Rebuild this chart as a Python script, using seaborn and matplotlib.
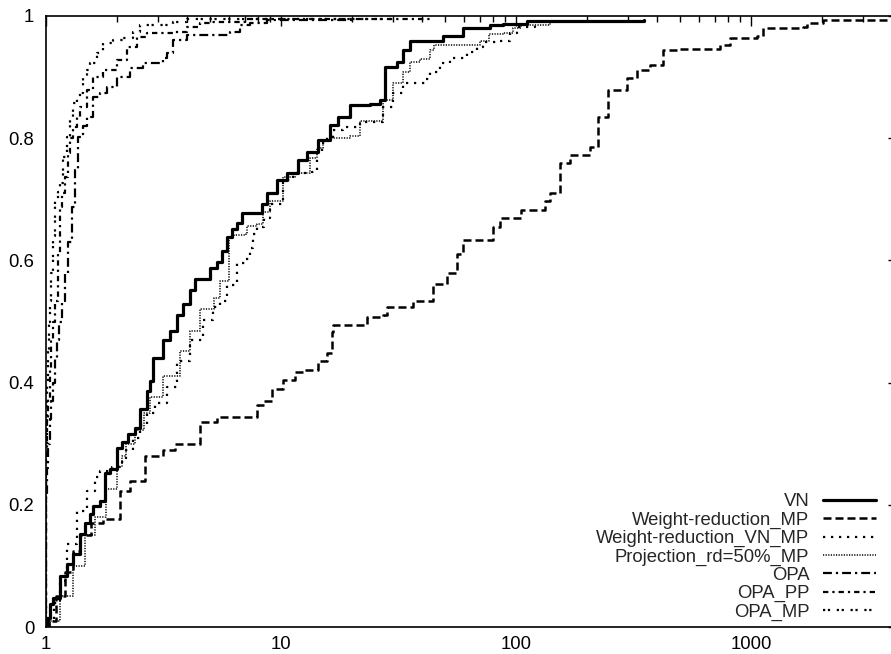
import numpy as np
import pandas as pd
import matplotlib
matplotlib.use("Agg")
import matplotlib.pyplot as plt
import seaborn as sns
from matplotlib.ticker import FixedLocator, LogLocator, NullFormatter

# ---------------- data ----------------
series_names = ["VN", "Weight-reduction_MP", "Weight-reduction_VN_MP",
                "Projection_rd=50%_MP", "OPA", "OPA_PP", "OPA_MP"]

vn_x = [1, 1.01, 1.04, 1.07, 1.147, 1.23, 1.30, 1.395, 1.466, 1.54, 1.585, 1.70, 1.78, 1.87,
        2.0, 2.105, 2.23, 2.39, 2.51, 2.69, 2.77, 2.85, 3.15, 3.37, 3.61, 3.83, 4.10, 4.31,
        4.75, 4.99, 5.34, 5.61, 5.89, 6.19, 6.50, 6.82, 7.38, 8.30, 8.72, 9.62, 10.6, 11.8,
        12.9, 14.4, 16.2, 17.5, 19.7, 23.9, 26.4, 27.7, 31.2, 33.0, 35.4, 43.1, 48.9, 59.5,
        77.5, 88.1, 111, 351]
vn_y = [0.0, 0.015, 0.038, 0.048, 0.084, 0.103, 0.12, 0.152, 0.17, 0.185, 0.198, 0.207, 0.252, 0.259,
        0.293, 0.302, 0.316, 0.326, 0.357, 0.387, 0.403, 0.441, 0.469, 0.485, 0.51, 0.529, 0.551, 0.57,
        0.57, 0.587, 0.597, 0.616, 0.638, 0.652, 0.661, 0.677, 0.677, 0.693, 0.711, 0.731, 0.743, 0.764,
        0.777, 0.797, 0.821, 0.834, 0.854, 0.856, 0.862, 0.916, 0.925, 0.944, 0.959, 0.959, 0.967, 0.98,
        0.985, 0.987, 0.992, 0.993]

wr_x = [1, 1.03, 1.1, 1.2, 1.3, 1.4, 1.55, 1.75, 1.82, 2.07, 2.28, 2.64, 3.15, 3.54, 4.52, 5.34,
        7.6, 7.9, 8.5, 9.2, 10.2, 11.5, 12.4, 14.4, 15.7, 16.5, 16.6, 20, 23.2, 27.2, 28.2, 35.4,
        36.5, 44.3, 50.8, 56.1, 59.5, 70.3, 79.8, 85.5, 105, 133, 140, 154, 170, 193, 207, 223,
        246, 297, 327, 372, 422, 484, 738, 814, 1061, 1125, 1664, 1730, 2025, 3945]
wr_y = [0.0, 0.01, 0.05, 0.09, 0.125, 0.15, 0.17, 0.177, 0.177, 0.223, 0.239, 0.28, 0.29, 0.30, 0.336, 0.343,
        0.343, 0.364, 0.37, 0.39, 0.405, 0.418, 0.42, 0.435, 0.448, 0.483, 0.495, 0.495, 0.507, 0.51, 0.523, 0.523,
        0.534, 0.562, 0.579, 0.61, 0.634, 0.634, 0.654, 0.67, 0.682, 0.698, 0.711, 0.759, 0.772, 0.772, 0.785, 0.834,
        0.879, 0.898, 0.911, 0.92, 0.944, 0.946, 0.952, 0.964, 0.967, 0.98, 0.982, 0.988, 0.993, 0.993]

wrvn_x = [1, 1.02, 1.08, 1.15, 1.23, 1.35, 1.5, 1.62, 1.7, 1.9, 2.05, 2.2, 2.35, 2.5, 2.7, 2.9, 3.27,
          3.61, 4.1, 4.65, 5.13, 5.5, 5.89, 6.5, 7.1, 7.38, 7.6, 7.9, 8.5, 8.98, 10.2, 11.2, 13.6,
          14.2, 14.9, 15.7, 16.6, 18.3, 21.7, 26.4, 27.2, 30, 33, 41, 43, 47.5, 52.4, 61.6, 68,
          72.6, 85.5, 94, 101, 120]
wrvn_y = [0.0, 0.01, 0.04, 0.075, 0.136, 0.19, 0.223, 0.245, 0.256, 0.262, 0.27, 0.29, 0.31, 0.33, 0.35, 0.366, 0.392,
          0.436, 0.469, 0.502, 0.523, 0.534, 0.559, 0.595, 0.603, 0.621, 0.644, 0.654, 0.670, 0.693, 0.731, 0.743, 0.744,
          0.775, 0.792, 0.802, 0.813, 0.818, 0.826, 0.826, 0.851, 0.874, 0.89, 0.897, 0.908, 0.923, 0.931, 0.941, 0.949,
          0.957, 0.959, 0.972, 0.982, 0.993]

proj_x = [1, 1.04, 1.15, 1.3, 1.47, 1.62, 1.8, 2.0, 2.1, 2.2, 2.4, 2.6, 2.77, 3.15, 3.7, 4.1, 4.52,
          5.2, 5.5, 6.0, 6.3, 7.1, 7.2, 7.9, 8.4, 8.98, 10.2, 11.5, 13.3, 14.2, 15.1, 16.2, 19.7,
          21.7, 26.4, 27.2, 30, 33, 35.4, 39, 43, 45, 66, 70, 77, 88, 97, 105, 140]
proj_y = [0.0, 0.01, 0.05, 0.1, 0.15, 0.18, 0.226, 0.262, 0.28, 0.30, 0.323, 0.35, 0.377, 0.41, 0.452, 0.485, 0.52,
          0.538, 0.567, 0.638, 0.641, 0.644, 0.656, 0.659, 0.679, 0.698, 0.736, 0.743, 0.767, 0.784, 0.795, 0.80, 0.803,
          0.828, 0.828, 0.862, 0.89, 0.908, 0.924, 0.93, 0.944, 0.952, 0.952, 0.959, 0.97, 0.972, 0.98, 0.985, 0.993]

opa_x = [1, 1, 1.01, 1.02, 1.035, 1.05, 1.07, 1.09, 1.11, 1.14, 1.17, 1.2, 1.24, 1.29, 1.33, 1.37,
         1.43, 1.49, 1.585, 1.70, 1.82, 2.0, 2.28, 2.59, 3.15, 3.27, 3.47, 3.98, 5.1, 6.07, 6.7,
         7.38, 8.72, 20]
opa_y = [0.0, 0.22, 0.26, 0.30, 0.34, 0.37, 0.40, 0.44, 0.47, 0.50, 0.534, 0.58, 0.63, 0.687, 0.748, 0.802,
         0.82, 0.834, 0.867, 0.874, 0.884, 0.90, 0.915, 0.923, 0.931, 0.939, 0.961, 0.969, 0.969, 0.974, 0.985,
         0.988, 0.993, 0.995]

opapp_x = [1, 1, 1.005, 1.01, 1.02, 1.035, 1.05, 1.07, 1.09, 1.12, 1.147, 1.175, 1.205, 1.24, 1.27,
           1.30, 1.35, 1.395, 1.49, 1.585, 1.75, 2.0, 2.21, 2.44, 2.69, 3.47, 3.98, 4.52, 5.1, 7.0, 44]
opapp_y = [0.0, 0.26, 0.30, 0.34, 0.375, 0.42, 0.47, 0.50, 0.534, 0.61, 0.687, 0.71, 0.736, 0.775, 0.80,
           0.818, 0.835, 0.851, 0.879, 0.90, 0.911, 0.928, 0.949, 0.966, 0.972, 0.974, 0.982, 0.988, 0.99, 0.995,
           0.995]

opamp_x = [1, 1, 1.005, 1.01, 1.02, 1.03, 1.04, 1.055, 1.07, 1.09, 1.12, 1.147, 1.18, 1.23, 1.265, 1.30,
           1.35, 1.395, 1.44, 1.49, 1.54, 1.65, 1.75, 1.93, 2.13, 2.35, 2.51, 3.47, 4.0, 30]
opamp_y = [0.0, 0.30, 0.35, 0.40, 0.45, 0.50, 0.534, 0.58, 0.64, 0.698, 0.712, 0.726, 0.769, 0.802, 0.834, 0.857,
           0.866, 0.874, 0.90, 0.912, 0.923, 0.939, 0.956, 0.961, 0.964, 0.974, 0.985, 0.990, 0.995, 0.995]

x_ticks = [1, 10, 100, 1000]
x_ticklabels = ["1", "10", "100", "1000"]
y_ticks = [0, 0.2, 0.4, 0.6, 0.8, 1]
y_ticklabels = ["0", "0.2", "0.4", "0.6", "0.8", "1"]

# ---------------- build table ----------------
xs = [vn_x, wr_x, wrvn_x, proj_x, opa_x, opapp_x, opamp_x]
ys = [vn_y, wr_y, wrvn_y, proj_y, opa_y, opapp_y, opamp_y]
frames = [pd.DataFrame({"ratio": x, "frac": y, "solver": n}) for n, x, y in zip(series_names, xs, ys)]
df = pd.concat(frames, ignore_index=True)

styles = {
    "VN": dict(lw=2.3, dashes=None),
    "Weight-reduction_MP": dict(lw=1.8, dashes=(3.2, 1.6)),
    "Weight-reduction_VN_MP": dict(lw=1.6, dashes=(1.0, 2.6)),
    "Projection_rd=50%_MP": dict(lw=1.1, dashes=(0.8, 0.9)),
    "OPA": dict(lw=1.6, dashes=(4.0, 1.8, 1.0, 1.8)),
    "OPA_PP": dict(lw=1.6, dashes=(2.4, 1.8, 1.0, 1.8)),
    "OPA_MP": dict(lw=1.6, dashes=(1.0, 1.2, 1.0, 3.0)),
}

FS = 13.3

# ---------------- plot ----------------
sns.set_theme(style="white")
plt.rcParams["font.family"] = ["Liberation Sans", "DejaVu Sans"]

W, H = 891, 654
fig = plt.figure(figsize=(W / 100, H / 100), dpi=100)
ax = fig.add_axes([46 / W, 1 - 627 / H, (891 - 46) / W, (627 - 16) / H])

for name in series_names:
    sub = df[df["solver"] == name]
    st = styles[name]
    sns.lineplot(data=sub, x="ratio", y="frac", ax=ax, sort=False, estimator=None,
                 label=name, color="black", linewidth=st["lw"], drawstyle="steps-post")
    ln = ax.get_lines()[-1]
    if st["dashes"] is not None:
        ln.set_dashes(st["dashes"])
        ln.set_dash_capstyle("butt")

ax.set_xscale("log")
ax.set_xlim(1, 3945)
ax.set_ylim(0, 1)
ax.set_xlabel("")
ax.set_ylabel("")

ax.xaxis.set_major_locator(FixedLocator(x_ticks))
ax.set_xticklabels(x_ticklabels)
ax.xaxis.set_minor_locator(LogLocator(base=10, subs=np.arange(2, 10), numticks=20))
ax.xaxis.set_minor_formatter(NullFormatter())
ax.set_yticks(y_ticks)
ax.set_yticklabels(y_ticklabels)

ax.tick_params(axis="both", which="both", direction="in", top=True, right=True,
               colors="black", labelsize=FS, width=1.0)
ax.tick_params(axis="both", which="major", length=7)
ax.tick_params(axis="both", which="minor", length=4)
ax.tick_params(axis="x", pad=6.5)
ax.tick_params(axis="y", pad=8.5)
for t in ax.yaxis.get_major_ticks():
    t.tick2line.set_markersize(2)

for side in ["left", "bottom", "top"]:
    ax.spines[side].set_visible(True)
    ax.spines[side].set_color("black")
    ax.spines[side].set_linewidth(1.2)
ax.spines["right"].set_visible(False)

handles, labels = ax.get_legend_handles_labels()
leg = ax.legend(handles, labels, loc="lower right", bbox_to_anchor=(0.982, 0.010),
                frameon=False, markerfirst=False, fontsize=FS, handlelength=2.85,
                handletextpad=0.75, labelspacing=0.07, borderpad=0, borderaxespad=0)

fig.savefig("out.png", dpi=100, facecolor="white")
